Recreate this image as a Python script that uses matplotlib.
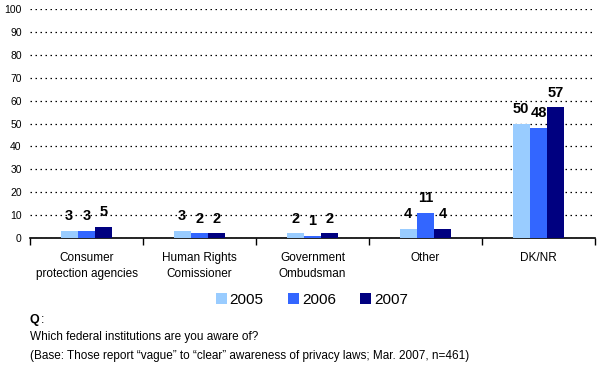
import numpy as np
import matplotlib.pyplot as plt

plt.rcParams['font.family'] = ['Liberation Sans', 'DejaVu Sans']

# data
categories = ['Consumer\nprotection agencies', 'Human Rights\nComissioner',
              'Government\nOmbudsman', 'Other', 'DK/NR']
years = ['2005', '2006', '2007']
vals_2005 = [3, 3, 2, 4, 50]
vals_2006 = [3, 2, 1, 11, 48]
vals_2007 = [5, 2, 2, 4, 57]

series = [vals_2005, vals_2006, vals_2007]
colors = ['#99CCFF', '#3366FF', '#000080']

fig = plt.figure(figsize=(6.01, 3.72), dpi=100)
ax = fig.add_axes([30/601, 1 - 238/372, 565/601, 229/372])

x = np.arange(len(categories))
w = 0.153
for i, (vals, c, yr) in enumerate(zip(series, colors, years)):
    bars = ax.bar(x + (i - 1) * w, vals, width=w, color=c, label=yr, zorder=3)
    for b, v in zip(bars, vals):
        ax.annotate(str(v), (b.get_x() + b.get_width()/2, b.get_height()),
                    xytext=(0, 5.5), textcoords='offset points',
                    ha='center', va='bottom', fontsize=10.5, fontweight='bold')

ax.set_xlim(-0.5, len(categories) - 0.5)
ax.set_ylim(0, 100)
ax.set_yticks(range(0, 101, 10))
ax.tick_params(axis='y', length=0, labelsize=7.5, pad=6)
ax.yaxis.grid(True, linestyle=(0, (1.2, 2.8)), color='black', linewidth=0.9, zorder=0)
for s in ['top', 'right', 'left']:
    ax.spines[s].set_visible(False)
ax.spines['bottom'].set_linewidth(1.2)

ax.set_xticks(x)
ax.set_xticklabels(categories, fontsize=8.5, linespacing=1.5)
ax.tick_params(axis='x', length=0, pad=10)
ax.set_xticks(np.arange(len(categories) + 1) - 0.5, minor=True)
ax.tick_params(axis='x', which='minor', length=5, direction='out', width=1)

fig.legend(loc='center', bbox_to_anchor=(312/601, 1 - 300/372), ncol=3,
           frameon=False, fontsize=11, handlelength=0.7, handleheight=0.7,
           handletextpad=0.2, columnspacing=1.6)

fig.text(30/601, 1 - 320/372, 'Q', fontsize=9, fontweight='bold', va='center')
fig.text(41/601, 1 - 320/372, ':', fontsize=9, va='center')
fig.text(30/601, 1 - 337/372, 'Which federal institutions are you aware of?',
         fontsize=8.5, va='center')
fig.text(30/601, 1 - 356/372,
         '(Base: Those report \u201cvague\u201d to \u201cclear\u201d awareness of privacy laws; Mar. 2007, n=461)',
         fontsize=8.5, va='center')

plt.savefig('out.png', dpi=100)
